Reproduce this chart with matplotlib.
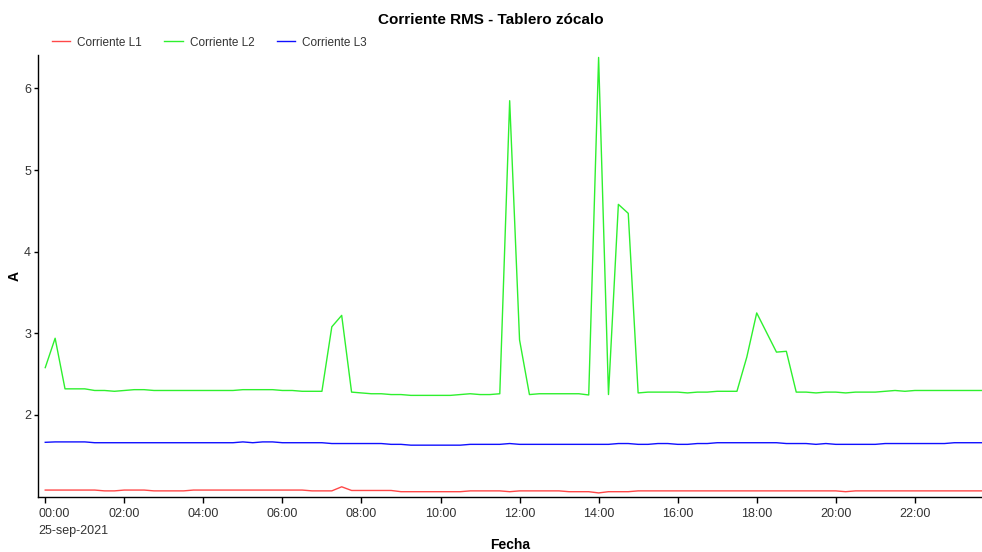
import numpy as np
import pandas as pd
import matplotlib.pyplot as plt
import matplotlib.dates as mdates
from matplotlib.ticker import FuncFormatter
from matplotlib.transforms import ScaledTranslation

plt.rcParams['font.family'] = ['Liberation Sans', 'DejaVu Sans']

# 15-minute samples, 25-sep-2021
fecha = pd.date_range('2021-09-25 00:00', periods=96, freq='15min')

corriente_l1 = [
    1.08, 1.08, 1.08, 1.08, 1.08, 1.08, 1.07, 1.07, 1.08, 1.08, 1.08, 1.07,
    1.07, 1.07, 1.07, 1.08, 1.08, 1.08, 1.08, 1.08, 1.08, 1.08, 1.08, 1.08,
    1.08, 1.08, 1.08, 1.07, 1.07, 1.07, 1.12, 1.075, 1.075, 1.075, 1.075, 1.075,
    1.06, 1.06, 1.06, 1.06, 1.06, 1.06, 1.06, 1.07, 1.07, 1.07, 1.07, 1.06,
    1.07, 1.07, 1.07, 1.07, 1.07, 1.06, 1.06, 1.06, 1.045, 1.06, 1.06, 1.06,
    1.07, 1.07, 1.07, 1.07, 1.07, 1.07, 1.07, 1.07, 1.07, 1.07, 1.07, 1.07,
    1.07, 1.07, 1.07, 1.07, 1.07, 1.07, 1.07, 1.07, 1.07, 1.06, 1.07, 1.07,
    1.07, 1.07, 1.07, 1.07, 1.07, 1.07, 1.07, 1.07, 1.07, 1.07, 1.07, 1.07,
]

corriente_l2 = [
    2.58, 2.94, 2.32, 2.32, 2.32, 2.30, 2.30, 2.29, 2.30, 2.31, 2.31, 2.30,
    2.30, 2.30, 2.30, 2.30, 2.30, 2.30, 2.30, 2.30, 2.31, 2.31, 2.31, 2.31,
    2.30, 2.30, 2.29, 2.29, 2.29, 3.08, 3.22, 2.28, 2.27, 2.26, 2.26, 2.25,
    2.25, 2.24, 2.24, 2.24, 2.24, 2.24, 2.25, 2.26, 2.25, 2.25, 2.26, 5.85,
    2.92, 2.25, 2.26, 2.26, 2.26, 2.26, 2.26, 2.245, 6.38, 2.25, 4.58, 4.47,
    2.27, 2.28, 2.28, 2.28, 2.28, 2.27, 2.28, 2.28, 2.29, 2.29, 2.29, 2.71,
    3.25, 3.01, 2.77, 2.78, 2.28, 2.28, 2.27, 2.28, 2.28, 2.27, 2.28, 2.28,
    2.28, 2.29, 2.30, 2.29, 2.30, 2.30, 2.30, 2.30, 2.30, 2.30, 2.30, 2.30,
]

corriente_l3 = [
    1.665, 1.67, 1.67, 1.67, 1.67, 1.66, 1.66, 1.66, 1.66, 1.66, 1.66, 1.66,
    1.66, 1.66, 1.66, 1.66, 1.66, 1.66, 1.66, 1.66, 1.67, 1.66, 1.67, 1.67,
    1.66, 1.66, 1.66, 1.66, 1.66, 1.65, 1.65, 1.65, 1.65, 1.65, 1.65, 1.64,
    1.64, 1.63, 1.63, 1.63, 1.63, 1.63, 1.63, 1.64, 1.64, 1.64, 1.64, 1.65,
    1.64, 1.64, 1.64, 1.64, 1.64, 1.64, 1.64, 1.64, 1.64, 1.64, 1.65, 1.65,
    1.64, 1.64, 1.65, 1.65, 1.64, 1.64, 1.65, 1.65, 1.66, 1.66, 1.66, 1.66,
    1.66, 1.66, 1.66, 1.65, 1.65, 1.65, 1.64, 1.65, 1.64, 1.64, 1.64, 1.64,
    1.64, 1.65, 1.65, 1.65, 1.65, 1.65, 1.65, 1.65, 1.66, 1.66, 1.66, 1.66,
]

series = [
    ('Corriente L1', corriente_l1, '#ff4848'),
    ('Corriente L2', corriente_l2, '#2ef02e'),
    ('Corriente L3', corriente_l3, '#1010ff'),
]

fig = plt.figure(figsize=(9.82, 5.52), dpi=100)
ax = fig.add_axes([38 / 982, 1 - 497 / 552, 1 - 38 / 982, (497 - 55) / 552])

for name, vals, col in series:
    ax.plot(fecha, vals, color=col, lw=1.0, label=name)

start = fecha[0]
ax.set_xlim(start - pd.Timedelta(minutes=11), start + pd.Timedelta(hours=23, minutes=42))
ax.set_ylim(0.995, 6.41)
ax.set_yticks([2, 3, 4, 5, 6])

ax.xaxis.set_major_locator(mdates.HourLocator(byhour=range(0, 24, 2)))


def fmt(x, pos):
    d = mdates.num2date(x)
    s = d.strftime('%H:%M')
    if d.hour == 0:
        s += '\n25-sep-2021'
    return s


ax.xaxis.set_major_formatter(FuncFormatter(fmt))

for sp in ['top', 'right']:
    ax.spines[sp].set_visible(False)
ax.spines['left'].set_linewidth(1.0)
ax.spines['bottom'].set_linewidth(1.0)
ax.tick_params(axis='x', labelsize=9, labelcolor='#333333', length=4, width=1, pad=4)
ax.tick_params(axis='y', labelsize=9, labelcolor='#333333', length=3, width=1, pad=2)

ax.set_xlabel('Fecha', fontsize=10, fontweight='bold')
ax.xaxis.set_label_coords(0.5, -0.093)
ax.set_ylabel('A', fontsize=10, fontweight='bold')
ax.yaxis.set_label_coords(-0.017, 0.5)
fig.suptitle('Corriente RMS - Tablero zócalo', fontsize=11, fontweight='bold', y=0.976)

fig.legend(loc='upper left', bbox_to_anchor=(0.042, 0.953), ncol=3, frameon=False,
           fontsize=8.5, handlelength=1.55, columnspacing=1.9, handletextpad=0.6,
           labelcolor='#333333')

# the first label (time + date) is left aligned, starting at the axis line
fig.canvas.draw()
shift = ScaledTranslation(-7 / 100, 0, fig.dpi_scale_trans)
for lbl in ax.get_xticklabels():
    if '\n' in lbl.get_text():
        lbl.set_horizontalalignment('left')
        lbl.set_multialignment('left')
        lbl.set_linespacing(1.55)
        lbl.set_transform(lbl.get_transform() + shift)

fig.savefig('out.png', dpi=100)
